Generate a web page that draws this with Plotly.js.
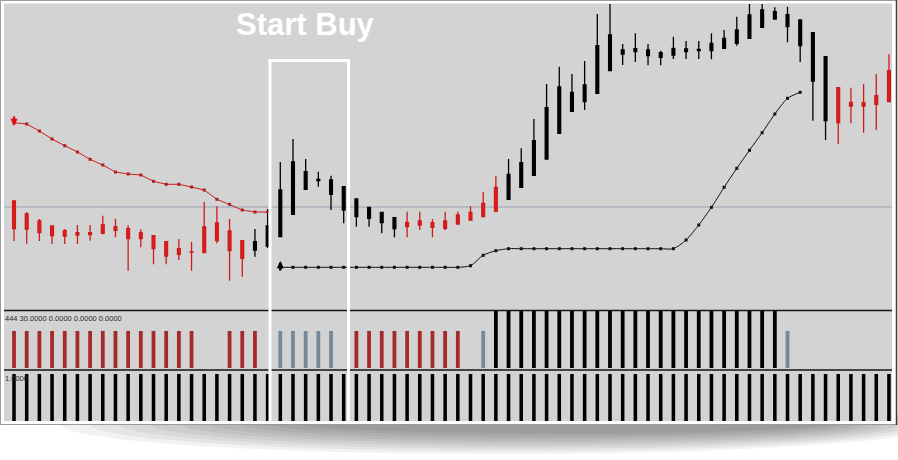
<!DOCTYPE html>
<html>
<head>
<meta charset="utf-8">
<script src="https://cdn.plot.ly/plotly-3.0.1.min.js"></script>
<style>
  html, body { margin: 0; padding: 0; background: #ffffff; }
  #chart { width: 898px; height: 460px; }
</style>
</head>
<body>
<div id="chart"></div>
<script>
// ---- price bars (one per period) ----
const candleIdx = [0,1,2,3,4,5,6,7,8,9,10,11,12,13,14,15,16,17,18,19,20,21,22,23,24,25,26,27,28,29,30,31,32,33,34,
  35,36,37,38,39,40,41,42,43,44,45,46,47,48,49,50,51,52,53,54,55,56,57,58,59,60,61,62,63,64,65,66,67,68,69];
// trend colouring of each bar: "dn" = red, "up" = black
const trend = ["dn","dn","dn","dn","dn","dn","dn","dn","dn","dn","dn","dn","dn","dn","dn","dn","dn","dn","dn",
  "up","up","up","up","up","up","up","up","up","up","up","up",
  "dn","dn","dn","dn","dn","dn","dn","dn",
  "up","up","up","up","up","up","up","up","up","up","up","up","up","up","up","up","up","up","up","up","up","up","up","up","up","up",
  "dn","dn","dn","dn","dn"];
const highP = [109,98,91,84,81,85,85,94.3,91.3,84.7,80.7,74.3,68.3,71,68,108,103.7,91,69.3,81,101,148,171,151,138.3,134.3,
  123.7,111.7,103.3,98.3,92.7,98.3,98.3,91,98.3,98.3,104,118,134.3,151,161.7,191,226,243.3,236,249,296,309,266,276.7,266,
  259.3,273.3,269,269,276.7,280,293.3,309,309,302.7,303.3,290,277.3,253.3,222.3,222.3,226,236,255.7];
const bodyTop = [109,96,89,84,79.3,77.3,77.3,85,83.3,81.3,77.3,74.3,68.3,61.3,58.2,83,87,79,69.3,68.3,84,120,148,138.3,
  130.7,130,123.3,111,102.7,97.7,92.3,87.7,89,87.3,89,95,97.7,106.7,122.7,135.7,147.3,169.3,202.3,223,217.7,225,264.3,275,
  260,261.3,260,257.3,261.7,261,260.7,266.7,271.7,280,295,300,298.3,295.3,290,277.3,253.3,222.3,207.7,207.3,214.3,239.3];
const bodyBot = [81.3,81,77.3,74.3,74,75,75.3,76.7,79.7,71.3,71.3,61.3,54,55.7,57.8,57.3,69.3,59.3,51.7,60,64,73.3,95.7,
  120.7,129.3,115.7,100,93.3,91.7,87.3,81.3,83.3,85,82.7,81.7,86,90,93.3,99,110.7,122.7,134.7,151,176.7,198.7,208.3,216.7,
  239.3,256,258.3,254.3,252.7,255,258.3,259.3,259.3,261.7,266.7,271.7,282.7,291,283.3,264.3,229,189.3,187.3,204,204,205.7,208.3];
const lowP = [69,66.3,69,66,66,66,69.3,75.7,72.7,39.3,62.7,45.7,45.7,50,39.3,57.3,66.7,29.3,33.3,53.3,62,73.3,95.7,120,
  123.3,100,86.7,83.3,83.3,76.7,72.7,72.7,80,72.7,80,85.3,89.3,93.3,97.7,110.7,122.7,134.7,151,176.7,198.7,200,216.7,239.3,
  245,248,244.7,244.7,251,251,251,250.7,261,264.3,271.7,282.7,291,267.7,248,189.3,170,166,186.7,177.3,180,208.3];

// ---- trailing stop lines ----
const sellStopIdx = [0,1,2,3,4,5,6,7,8,9,10,11,12,13,14,15,16,17,18,19,20];
const sellStop = [187.3,186,179,171,164.3,158,150.7,145,138,136,135,128.7,125.7,125.7,123,120,110.7,105.7,100,98,98];
const buyStopIdx = [21,22,23,24,25,26,27,28,29,30,31,32,33,34,35,36,37,38,39,40,41,42,43,44,45,46,47,48,49,50,51,52,
  53,54,55,56,57,58,59,60,61,62];
const buyStop = [42.7,42.7,42.7,42.7,42.7,42.7,42.7,42.7,42.7,42.7,42.7,42.7,42.7,42.7,42.7,44.3,54.7,59.3,
  61.3,61.3,61.3,61.3,61.3,61.3,61.3,61.3,61.3,61.3,61.3,61.3,61.3,61.3,
  70,85,102.7,122.7,141.7,159.7,177.3,196,211.7,217.7];
// signal arrows: bar index and the price the arrow tip points at
const sellArrowIdx = 0,  sellArrowP = 184;
const buyArrowIdx  = 21, buyArrowP  = 49;
const bidLevel = 103;

// ---- signal histogram: S = sell, N = neutral, B = buy, "" = none ----
const signalState = ["S","S","S","S","S","S","S","S","S","S","S","S","S","S","S","","","S","S","S","",
  "N","N","N","N","N","","S","S","S","S","S","S","S","S","S","","N",
  "B","B","B","B","B","B","B","B","B","B","B","B","B","B","B","B","B","B","B","B","B","B","B",
  "N","","","","","","","",""];
const signalValue = [0.65,0.65,0.65,0.65,0.65,0.65,0.65,0.65,0.65,0.65,0.65,0.65,0.65,0.65,0.65,0,0,0.65,0.65,0.65,0,
  0.65,0.65,0.65,0.65,0.65,0,0.65,0.65,0.65,0.65,0.65,0.65,0.65,0.65,0.65,0,0.65,
  1,1,1,1,1,1,1,1,1,1,1,1,1,1,1,1,1,1,1,1,1,1,1,
  0.65,0,0,0,0,0,0,0,0];
// ---- lower activity histogram ----
const activityValue = [1,1,1,1,1,1,1,1,1,1,1,1,1,1,1,1,1,1,1,1,1,1,1,1,1,1,1,1,1,1,1,1,1,1,1,
  1,1,1,1,1,1,1,1,1,1,1,1,1,1,1,1,1,1,1,1,1,1,1,1,1,1,1,1,1,1,1,1,1,1,1];

const panelLabel2 = "444 30.0000 0.0000 0.0000 0.0000";
const panelLabel3 = "1.0000";
const boxTitle = "Start Buy";

// ---- helpers: pixel -> paper coordinates (no margins) ----
const W = 898, H = 460;
const px = x => x / W;
const py = y => 1 - y / H;

function pick(arr, want) {
  return arr.filter((_, i) => trend[i] === want);
}
function candleTrace(want, lineCol, fillCol) {
  const up = want === "up";
  return {
    type: "candlestick", xaxis: "x", yaxis: "y",
    x: pick(candleIdx, want),
    open: pick(up ? bodyBot : bodyTop, want),
    close: pick(up ? bodyTop : bodyBot, want),
    high: pick(highP, want),
    low: pick(lowP, want),
    whiskerwidth: 0,
    increasing: { line: { color: lineCol, width: 1.3 }, fillcolor: fillCol },
    decreasing: { line: { color: lineCol, width: 1.3 }, fillcolor: fillCol },
    hoverinfo: "skip", showlegend: false
  };
}

const sigColor = { S: "#a52a2a", N: "#778899", B: "#000000", "": "rgba(0,0,0,0)" };

const traces = [
  candleTrace("dn", "#cf1a1a", "#e41b1b"),
  candleTrace("up", "#000000", "#000000"),
  { type: "scatter", mode: "lines+markers", x: sellStopIdx, y: sellStop, xaxis: "x", yaxis: "y",
    line: { color: "#cc2020", width: 1 }, marker: { symbol: "square", size: 3, color: "#b01c1c" },
    hoverinfo: "skip", showlegend: false },
  { type: "scatter", mode: "lines+markers", x: buyStopIdx, y: buyStop, xaxis: "x", yaxis: "y",
    line: { color: "#111111", width: 1, shape: "spline", smoothing: 0.7 },
    marker: { symbol: "square", size: 3, color: "#111111" },
    hoverinfo: "skip", showlegend: false },
  { type: "bar", x: candleIdx, y: signalValue, xaxis: "x", yaxis: "y2", width: 0.3,
    marker: { color: signalState.map(s => sigColor[s]), line: { width: 0 } },
    hoverinfo: "skip", showlegend: false },
  { type: "bar", x: candleIdx, y: activityValue, xaxis: "x", yaxis: "y3", width: 0.28,
    marker: { color: "#000000", line: { width: 0 } },
    hoverinfo: "skip", showlegend: false }
];

// soft drop shadow under the framed chart
const shadow = [];
for (let k = 0; k < 9; k++) {
  const rx = 440 - k * 22, ry = 30 - k * 2.6, cx = 500 + k * 8;
  shadow.push({ type: "circle", xref: "paper", yref: "paper", layer: "below",
    x0: px(cx - rx), x1: px(cx + rx), y0: py(424 + ry), y1: py(424 - ry),
    fillcolor: "rgba(0,0,0,0.05)", line: { width: 0 } });
}

const shapes = shadow.concat([
  // white frame and its outline
  { type: "rect", xref: "paper", yref: "paper", layer: "below",
    x0: px(0.5), x1: px(896.5), y0: py(424.5), y1: py(0.5),
    fillcolor: "#ffffff", line: { color: "#9a9a9a", width: 1 } },
  // chart panels background
  { type: "rect", xref: "paper", yref: "paper", layer: "below",
    x0: px(4), x1: px(892), y0: py(421), y1: py(3.5),
    fillcolor: "#d3d3d3", line: { width: 0 } },
  // bid level
  { type: "line", xref: "paper", yref: "y", layer: "below",
    x0: px(4), x1: px(892), y0: bidLevel, y1: bidLevel,
    line: { color: "#98a1b3", width: 1 } },
  // panel separators
  { type: "line", xref: "paper", yref: "paper", x0: px(4), x1: px(892), y0: py(310.5), y1: py(310.5),
    line: { color: "#151515", width: 1.5 } },
  { type: "line", xref: "paper", yref: "paper", x0: px(4), x1: px(892), y0: py(370), y1: py(370),
    line: { color: "#151515", width: 1.5 } },
  // highlight box
  { type: "line", xref: "paper", yref: "paper", x0: px(270), x1: px(270), y0: py(421), y1: py(59),
    line: { color: "#ffffff", width: 3 } },
  { type: "line", xref: "paper", yref: "paper", x0: px(348.5), x1: px(348.5), y0: py(421), y1: py(59),
    line: { color: "#ffffff", width: 3 } },
  { type: "line", xref: "paper", yref: "paper", x0: px(268.5), x1: px(350), y0: py(60.5), y1: py(60.5),
    line: { color: "#ffffff", width: 3 } },
  // right edge of the frame
  { type: "line", xref: "paper", yref: "paper", x0: px(896.5), x1: px(896.5), y0: py(425), y1: py(0),
    line: { color: "#3a3a3a", width: 1.5 } }
]);

const noAxis = { visible: false, showgrid: false, zeroline: false, fixedrange: true };
const xRange = [-0.79, 69.24];

function signalArrow(idx, price, color, dir) {
  return { x: idx, y: price, xref: "x", yref: "y", text: "", showarrow: true,
    ax: 0, ay: dir === "down" ? -11 : 11, arrowhead: 2, arrowsize: 0.6, arrowwidth: 2.4,
    arrowcolor: color, standoff: 0 };
}

const layout = {
  width: W, height: H,
  margin: { l: 0, r: 0, t: 0, b: 0, pad: 0 },
  paper_bgcolor: "#ffffff",
  plot_bgcolor: "rgba(0,0,0,0)",
  showlegend: false,
  hovermode: false,
  boxgap: 0.78, boxgroupgap: 0,
  barmode: "overlay",
  xaxis: Object.assign({}, noAxis, { domain: [px(4), px(892)], range: xRange, rangeslider: { visible: false } }),
  yaxis: Object.assign({}, noAxis, { domain: [py(310), py(4)], range: [0, 306], anchor: "x" }),
  yaxis2: Object.assign({}, noAxis, { domain: [py(368), py(311)], range: [0, 1], anchor: "x" }),
  yaxis3: Object.assign({}, noAxis, { domain: [py(421), py(374)], range: [0, 1], anchor: "x" }),
  shapes: shapes,
  annotations: [
    signalArrow(sellArrowIdx, sellArrowP, "#e01010", "down"),
    signalArrow(buyArrowIdx, buyArrowP, "#000000", "up"),
    { text: boxTitle, xref: "paper", yref: "paper", x: px(305.5), y: py(24),
      xanchor: "center", yanchor: "middle", showarrow: false,
      font: { family: "Liberation Sans, Arial, sans-serif", size: 31, weight: "bold", color: "#ffffff" } },
    { text: panelLabel2, xref: "paper", yref: "paper", x: px(3), y: py(318.5),
      xanchor: "left", yanchor: "middle", showarrow: false,
      font: { family: "Liberation Sans, Arial, sans-serif", size: 7.5, color: "#2a2a2a" } },
    { text: panelLabel3, xref: "paper", yref: "paper", x: px(3), y: py(378.5),
      xanchor: "left", yanchor: "middle", showarrow: false,
      font: { family: "Liberation Sans, Arial, sans-serif", size: 7.5, color: "#2a2a2a" } }
  ]
};

Plotly.newPlot("chart", traces, layout, { staticPlot: true, displayModeBar: false });
</script>
</body>
</html>
